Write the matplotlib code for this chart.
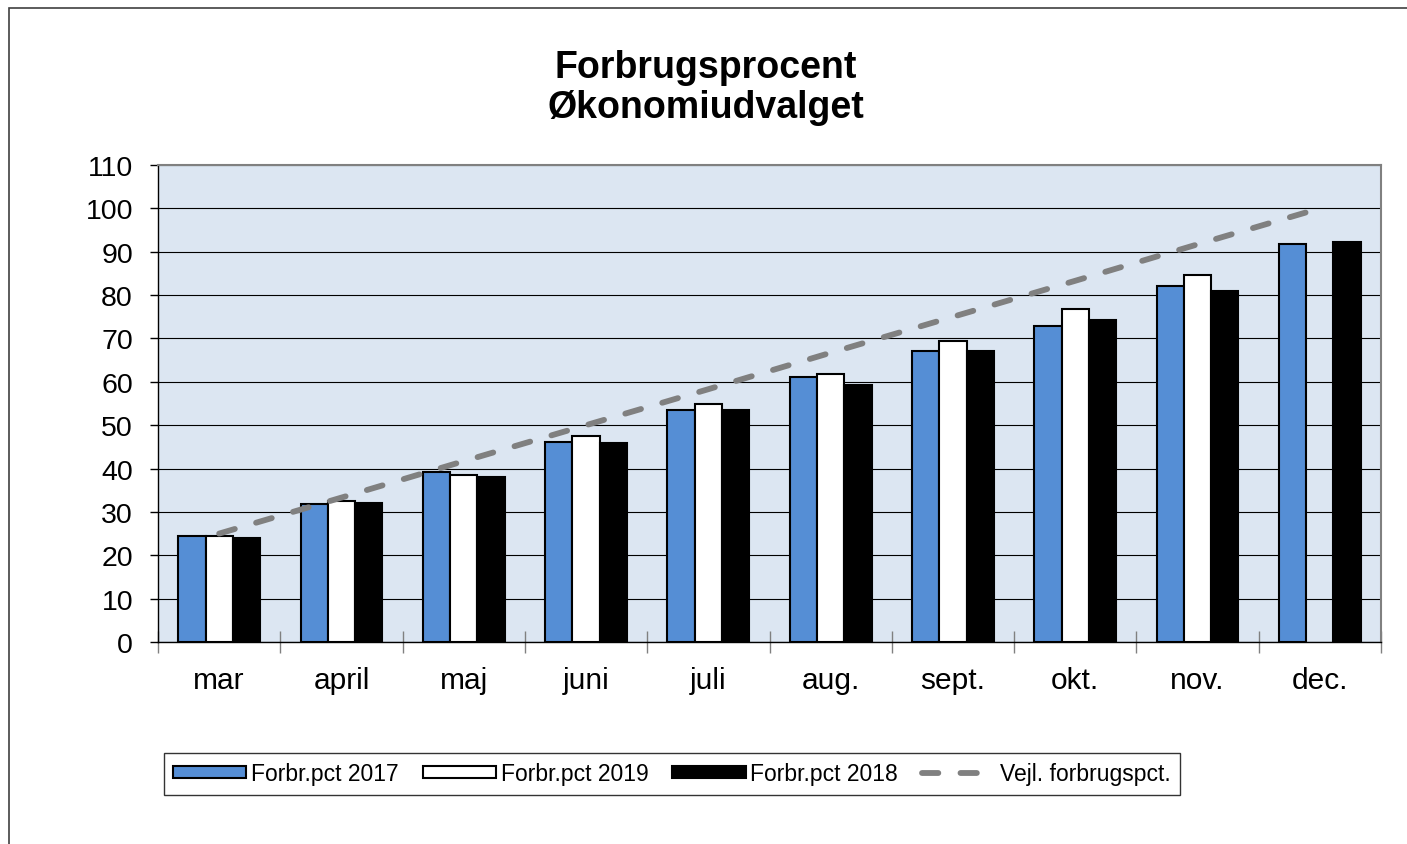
import numpy as np
import matplotlib
matplotlib.use("Agg")
import matplotlib.pyplot as plt
from matplotlib.patches import Rectangle

plt.rcParams['font.family'] = ['Liberation Sans', 'DejaVu Sans']

months = ['mar', 'april', 'maj', 'juni', 'juli', 'aug.', 'sept.', 'okt.', 'nov.', 'dec.']
pct_2017 = [24.4, 31.8, 39.1, 46.2, 53.5, 61.0, 67.2, 72.9, 82.2, 91.8]
pct_2019 = [24.4, 32.5, 38.5, 47.4, 55.0, 61.9, 69.3, 76.9, 84.6, np.nan]
pct_2018 = [24.0, 32.0, 38.0, 45.8, 53.4, 59.3, 67.0, 74.3, 81.0, 92.2]
vejl = [25.0, 33.3, 41.7, 50.0, 58.3, 66.7, 75.0, 83.3, 91.7, 100.0]
yticks = list(range(0, 111, 10))

W, H = 1407, 845
fig = plt.figure(figsize=(W / 100, H / 100), dpi=100)
ax = fig.add_axes([158 / W, 1 - 643 / H, (1381 - 158) / W, (643 - 166) / H])
ax.set_facecolor('#DCE6F2')

x = np.arange(len(months))
bw = 0.223
b1 = ax.bar(x - bw, pct_2017, bw, color='#558ED5', edgecolor='black', linewidth=1.5, label='Forbr.pct 2017', zorder=3)
b2 = ax.bar(x, pct_2019, bw, color='white', edgecolor='black', linewidth=1.5, label='Forbr.pct 2019', zorder=3)
b3 = ax.bar(x + bw, pct_2018, bw, color='black', edgecolor='black', linewidth=1.5, label='Forbr.pct 2018', zorder=3)
ln, = ax.plot(x, vejl, color='#808080', linewidth=4.2, dashes=(2.8, 3.8),
              dash_capstyle='round', label='Vejl. forbrugspct.', zorder=4)

ax.set_xlim(-0.5, len(months) - 0.5)
ax.set_ylim(0, 110)
ax.set_yticks(yticks)
ax.set_yticklabels([str(v) for v in yticks], fontsize=20.5)
ax.yaxis.grid(True, color='black', linewidth=0.8, zorder=1)
ax.set_axisbelow(True)

ax.set_xticks(np.arange(-0.5, len(months), 1.0))
ax.set_xticklabels([])
ax.set_xticks(x, minor=True)
ax.set_xticklabels(months, minor=True, fontsize=21.5)
ax.tick_params(axis='x', which='major', direction='inout', length=16, width=1, color='#808080')
ax.tick_params(axis='x', which='minor', length=0, pad=17)
ax.tick_params(axis='y', direction='out', length=6, width=1, color='black', pad=12)

for s in ['left', 'bottom']:
    ax.spines[s].set_color('black')
    ax.spines[s].set_linewidth(1.0)
for s in ['top', 'right']:
    ax.spines[s].set_color('#808080')
    ax.spines[s].set_linewidth(1.5)

fig.text(706 / W, 1 - 88 / H, 'Forbrugsprocent\nØkonomiudvalget', ha='center', va='center',
         fontsize=27, fontweight='bold', linespacing=1.15)

handles = [b1, b2, b3, ln]
labels = [h.get_label() for h in handles]
leg = fig.legend(handles, labels, loc='center', bbox_to_anchor=(672 / W, 1 - 775 / H), ncol=4,
                 fontsize=16.5, frameon=True, fancybox=False, shadow=False, borderpad=0.4,
                 handlelength=3.2, handleheight=0.45, handletextpad=0.2, columnspacing=1.05,
                 borderaxespad=0)
leg.get_frame().set_edgecolor('black')
leg.get_frame().set_linewidth(1.0)

fig.patches.append(Rectangle((9 / W, -0.1), 1.2, 1 - 9 / H + 0.1, transform=fig.transFigure,
                             fill=False, edgecolor='#404040', linewidth=1.2, clip_on=False))

fig.savefig('out.png', dpi=100)
